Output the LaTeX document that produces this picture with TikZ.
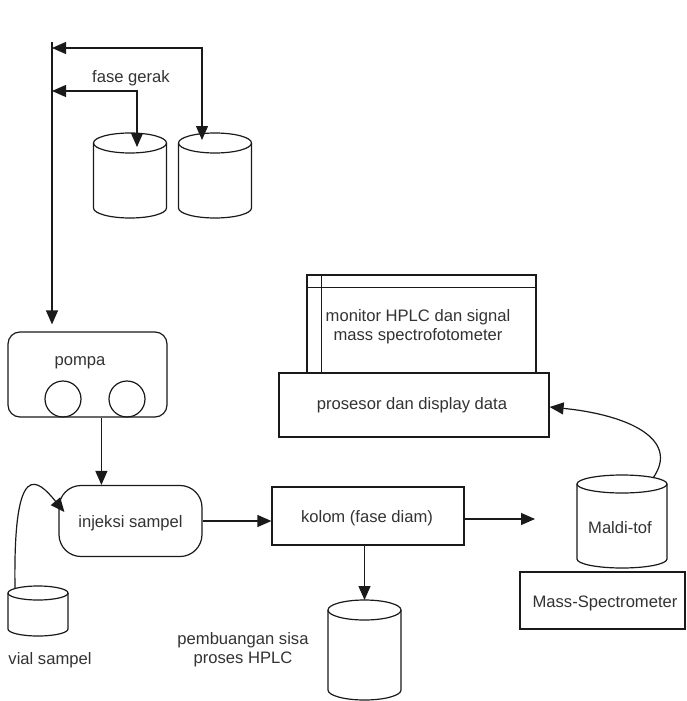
\documentclass[tikz,border=0pt]{standalone}
\usepackage{fontspec}
\setmainfont{Liberation Sans}
\usetikzlibrary{arrows.meta,calc}
\definecolor{txt}{HTML}{333333}
\definecolor{ln}{HTML}{1A1A1A}
\tikzset{
  base/.style={line width=1.2pt, draw=ln},
  lbl/.style={font=\fontsize{16.6}{19}\selectfont, text=txt, inner sep=0pt, align=center},
  box/.style={base, rectangle, inner sep=0pt},
  arr/.style={base, -{Triangle[length=14pt,width=12pt]}},
  arrtwo/.style={base, {Triangle[length=14pt,width=12pt]}-{Triangle[length=14pt,width=12pt]}},
}
\newcommand\mycyl[6]{%
  \node[inner sep=0pt, outer sep=0pt, minimum width=#4pt, minimum height=#5pt, anchor=north] (#1) at (#2,-#3) {};
  \draw[base] ($(#1.north)+(0,-#6)$) ellipse [x radius=#4/2, y radius=#6];
  \draw[base] ($(#1.north west)+(0,-#6)$) -- ($(#1.south west)+(0,#6)$)
     arc[start angle=180, end angle=360, x radius=#4/2, y radius=#6]
     -- ($(#1.north east)+(0,-#6)$);
}
\begin{document}
\begin{tikzpicture}[x=1pt,y=1pt]
\useasboundingbox (0,0) rectangle (687,-701);
\fill[white] (0,0) rectangle (687,-701);

% solvent reservoirs
\mycyl{c1}{130}{133}{73}{85}{10}
\mycyl{c2}{215}{133}{73}{85}{10}
\node[lbl] (fg) at (131,-78) {fase gerak};

% pump
\node[box, rounded corners=12pt, minimum width=159pt, minimum height=85pt] (pompa) at (87.5,-374.5) {};
\node[lbl] (pompalbl) at (80,-363) {pompa};
\node[base, circle, inner sep=0pt, minimum size=36pt] (pc1) at (63,-399) {};
\node[base, circle, inner sep=0pt, minimum size=36pt] (pc2) at (127,-399) {};

% main feed line
\coordinate (vtop) at (52,-42);
\coordinate (j1) at (52,-48);
\coordinate (j2) at (52,-91);
\draw[arr, shorten >=7pt] (vtop) -- (vtop |- pompa.north);
\draw[arrtwo] (j1) -| ($(c2.north)+(-13,-7)$);
\draw[arrtwo] (j2) -| ($(c1.north)+(7,-14)$);

% injection
\node[box, rounded corners=22pt, minimum width=143pt, minimum height=71pt] (inj) at (130.5,-521) {};
\node[lbl] (injlbl) at (130.5,-523) {injeksi sampel};
\path (pompa.south west) ++(94,0) coordinate (pa);
\draw[arr] (pa) -- (pa |- inj.north);

% vial
\mycyl{vial}{38}{586}{60}{50}{7}
\node[lbl] (viallbl) at (50,-660) {vial sampel};
\draw[arr] ($(vial.north)+(-23,-2)$) .. controls (13,-455) and (38,-480) .. ($(inj.west)+(6,9)$);

% column
\node[box, minimum width=192pt, minimum height=58pt] (kolom) at (368,-516) {};
\node[lbl] (kolomlbl) at (367,-518) {kolom (fase diam)};
\draw[arr] (inj.east) -- (inj.east -| kolom.west);
\coordinate (kend) at (535,-519);
\draw[arr] (kolom.east |- kend) -- (kend);

% waste
\mycyl{waste}{364.5}{600}{73}{100}{10}
\draw[arr] (waste.north |- kolom.south) -- (waste.north);
\node[lbl] (wastelbl) at (243,-650) {pembuangan sisa\\proses HPLC};

% monitor & processor
\node[box, minimum width=229pt, minimum height=98pt] (mon) at (421.5,-324) {};
\draw[base] ($(mon.north west)+(0,-13)$) -- ($(mon.north east)+(0,-13)$);
\draw[base] ($(mon.north west)+(15,0)$) -- ($(mon.south west)+(15,0)$);
\node[lbl] (monlbl) at (418,-327) {monitor HPLC dan signal\\mass spectrofotometer};
\node[box, fill=white, minimum width=270pt, minimum height=64pt] (pros) at (414,-405) {};
\node[lbl] (proslbl) at (412,-405) {prosesor dan display data};

% mass spectrometer
\node[box, minimum width=165pt, minimum height=57pt] (ms) at (602.5,-600.5) {};
\node[lbl] (mslbl) at (605,-603) {Mass-Spectrometer};
\mycyl{maldi}{622}{475}{90}{93}{9}
\node[lbl] (maldilbl) at (620,-528) {Maldi-tof};
\draw[arr] ($(maldi.north)+(31,-3)$) .. controls (680,-440) and (630,-415) .. ($(pros.east)+(0,-2)$);
\end{tikzpicture}
\end{document}
